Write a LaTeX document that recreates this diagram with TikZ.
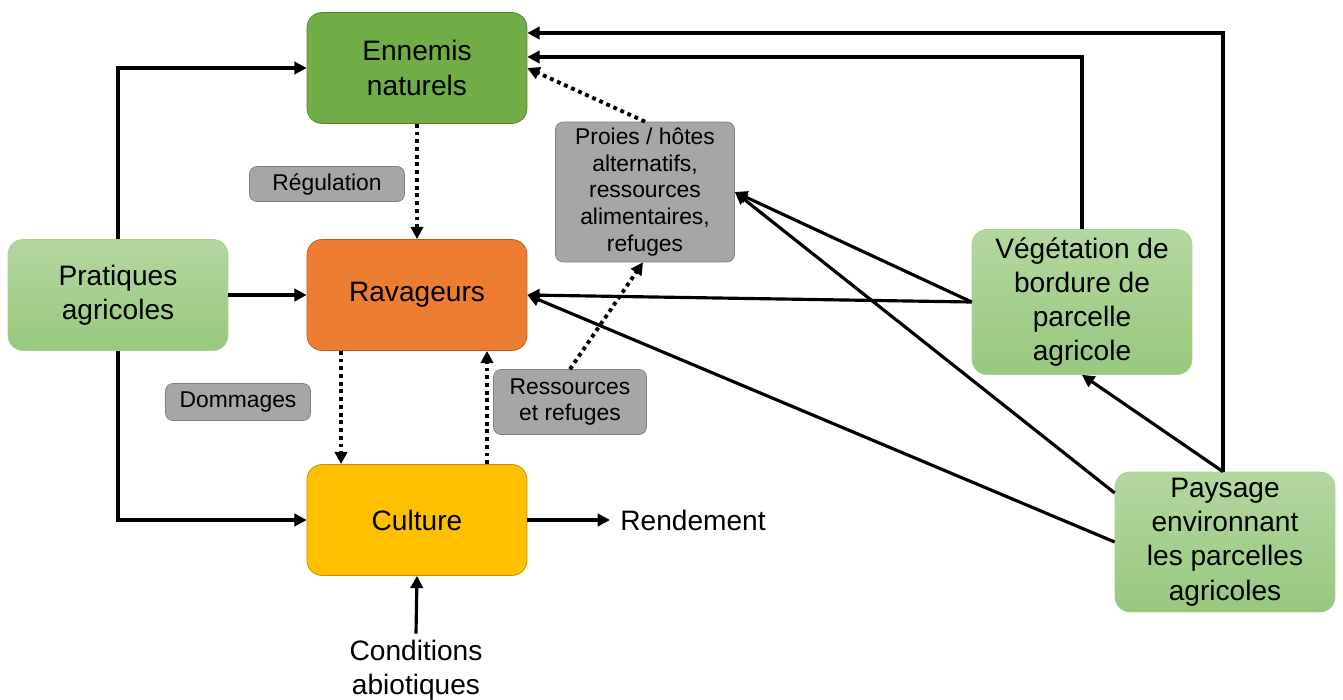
\documentclass[tikz,border=0pt]{standalone}
\usepackage{fontspec}
\setmainfont{Liberation Sans}
\usepackage{tikz}
\usetikzlibrary{arrows.meta,calc}
\definecolor{ennfill}{HTML}{70AD47}
\definecolor{enndraw}{HTML}{548235}
\definecolor{ravfill}{HTML}{ED7D31}
\definecolor{ravdraw}{HTML}{C55A11}
\definecolor{culfill}{HTML}{FFC000}
\definecolor{culdraw}{HTML}{BF9000}
\definecolor{lgtop}{HTML}{B4D7A0}
\definecolor{lgbot}{HTML}{98C87E}
\definecolor{lgdraw}{HTML}{A9D18E}
\definecolor{greyfill}{HTML}{A6A6A6}
\definecolor{greydraw}{HTML}{7F7F7F}
\tikzset{
  box/.style      = {shape=rectangle, rounded corners=0.3cm, draw, align=center,
                     inner sep=2pt, font=\fontsize{16}{19.5}\selectfont},
  main/.style     = {box, minimum width=4.4cm, minimum height=2.22cm},
  enn/.style      = {main, fill=ennfill, draw=enndraw},
  rav/.style      = {main, fill=ravfill, draw=ravdraw},
  cul/.style      = {main, fill=culfill, draw=culdraw},
  outer/.style    = {box, minimum width=4.4cm, top color=lgtop, bottom color=lgbot, draw=lgdraw},
  tag/.style      = {box, rounded corners=0.15cm, fill=greyfill, draw=greydraw,
                     font=\fontsize{13}{15.3}\selectfont},
  plain/.style    = {align=center, font=\fontsize{16}{19.5}\selectfont},
  link/.style     = {draw, line width=1.8pt, -{Triangle[length=7pt,width=7pt]}},
  effect/.style   = {link, line width=2.2pt, dash pattern=on 2.2pt off 2.2pt}
}

\begin{document}
\begin{tikzpicture}[x=0.02cm, y=-0.02cm]
  \useasboundingbox (0,0) rectangle (1343,700);

  % central chain
  \node [enn] (ennemis) at (417,68)  {Ennemis\\naturels};
  \node [rav] (ravageurs) at (417,295) {Ravageurs};
  \node [cul] (culture) at (417,520) {Culture};

  % drivers
  \node [outer, minimum height=2.22cm] (pratiques) at (118,295) {Pratiques\\agricoles};
  \node [outer, minimum height=2.9cm] (vegetation) at (1082,302)
        {Végétation de\\bordure de\\parcelle\\agricole};
  \node [outer, minimum height=2.8cm] (paysage) at (1225,542)
        {Paysage\\environnant\\les parcelles\\agricoles};

  % grey labels
  \node [tag, minimum width=3.58cm, minimum height=2.8cm] (proies) at (645,192)
        {Proies / hôtes\\alternatifs,\\ressources\\alimentaires,\\refuges};
  \node [tag, minimum width=3.1cm, minimum height=0.7cm] (regulation) at (327,184) {Régulation};
  \node [tag, minimum width=2.9cm, minimum height=0.74cm] (dommages) at (238,402) {Dommages};
  \node [tag, minimum width=3.06cm, minimum height=1.3cm] (ressources) at (570,402)
        {Ressources\\et refuges};

  \node [plain, inner sep=0.2cm] (rendement) at (693,520) {Rendement};
  \node [plain] (conditions) at (416,670) {Conditions\\abiotiques};

  % pratiques agricoles
  \path [link] (pratiques.north) |- (ennemis.west);
  \path [link] (pratiques.east) -- (ravageurs.west);
  \path [link] (pratiques.south) |- (culture.west);

  % effets (pointilles)
  \path [effect] (ennemis.south) -- (ravageurs.north);
  \path [effect] ([xshift=-1.52cm]ravageurs.south) -- ([xshift=-1.52cm]culture.north);
  \path [effect] ([xshift=1.4cm]culture.north) -- ([xshift=1.4cm]ravageurs.south);
  \path [effect] (ressources.north) -- ([xshift=-0.04cm]proies.south);
  \path [effect] (proies.north) -- (ennemis.east);

  % culture
  \path [link] (culture.east) -- (rendement.west);
  \path [link] (conditions.north) -- (culture.south);

  % vegetation de bordure
  \path [link] (vegetation.north) |- ([yshift=0.22cm]ennemis.east);
  \path [link] (vegetation.west) -- (ravageurs.east);
  \path [link] (vegetation.west) -- (proies.east);

  % paysage
  \path [link] ([xshift=-0.04cm]paysage.north) |- ([yshift=0.7cm]ennemis.east);
  \path [link] ([xshift=-0.04cm]paysage.north) -- (vegetation.south);
  \path [link] ([yshift=0.98cm]paysage.west) -- (proies.east);
  \path [link] (paysage.west) -- (ravageurs.east);
\end{tikzpicture}
\end{document}
